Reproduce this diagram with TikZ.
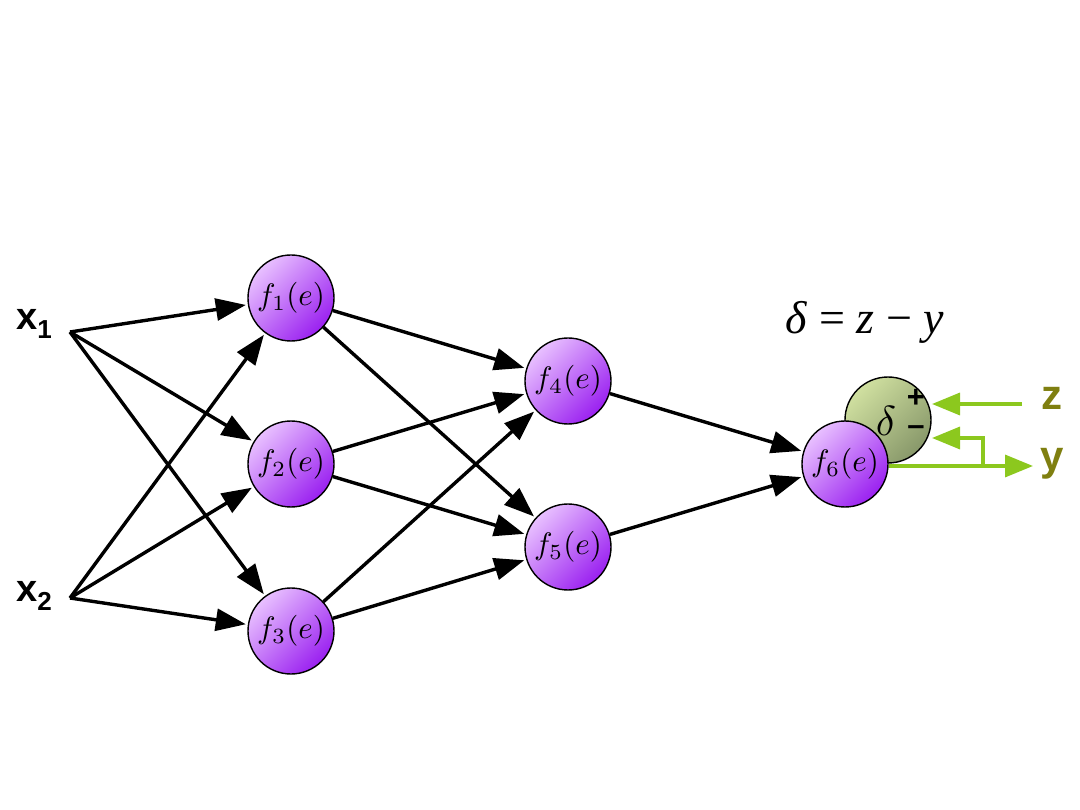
\documentclass[tikz,border=0pt]{standalone}
\usepackage{fontspec}
\setsansfont{Liberation Sans}
\newfontfamily\tms{Liberation Serif}
\usetikzlibrary{arrows.meta}
\definecolor{arrgreen}{HTML}{8CC81E}
\definecolor{olivetxt}{HTML}{7F7F10}
\definecolor{violetlight}{HTML}{E8C0FF}
\definecolor{violetdark}{HTML}{9A20F0}
\definecolor{greenlight}{HTML}{D0E0A0}
\definecolor{greendark}{HTML}{88986A}
\newcommand{\flab}[1]{\scalebox{3.1}{$f_{#1}(e)$}}
\begin{document}
\begin{tikzpicture}[x=1pt,y=-1pt,
  neuron/.style={circle,draw=black,line width=1.4pt,minimum size=86pt,inner sep=0pt,
    left color=violetlight,right color=violetdark,shading angle=45},
  errnode/.style={circle,draw=black,line width=1.4pt,minimum size=86pt,inner sep=0pt,
    left color=greenlight,right color=greendark,shading angle=45},
  sign/.style={inner sep=0pt,text height=14pt,text depth=0pt,
    font=\sffamily\bfseries\fontsize{31}{32}\selectfont},
  conn/.style={line width=3.4pt,shorten >=2pt,-{Triangle[length=30pt,width=22pt]}},
  gconn/.style={draw=arrgreen,line width=3.4pt,-{Triangle[length=28pt,width=22pt]}},
  inlabel/.style={font=\sffamily\bfseries\fontsize{38}{40}\selectfont},
  outlabel/.style={font=\sffamily\bfseries\fontsize{42}{44}\selectfont,text=olivetxt}]
\useasboundingbox (0,0) rectangle (1080,810);

% error node (behind f6)
\node[errnode] (d) at (888,420) {};
\node[inner sep=0pt] (dd) at (886,421) {\scalebox{4.2}{$\delta$}};
\node[sign] (dp) at (916,401) {+};
\node[sign] (dm) at (916,429) {--};

% neurons
\node[neuron] (f1) at (291,298) {\flab{1}};
\node[neuron] (f2) at (291,464) {\flab{2}};
\node[neuron] (f3) at (291,631) {\flab{3}};
\node[neuron] (f4) at (568,381) {\flab{4}};
\node[neuron] (f5) at (568,547) {\flab{5}};
\node[neuron] (f6) at (845,464) {\flab{6}};

% inputs
\node[inlabel] (x1) at (34,324) {x\raisebox{-9pt}{\fontsize{26}{26}\selectfont 1}};
\node[inlabel] (x2) at (34,596) {x\raisebox{-9pt}{\fontsize{26}{26}\selectfont 2}};
\coordinate (x1s) at (70,332);
\coordinate (x2s) at (70,598);

\foreach \s in {x1s,x2s}{
  \foreach \t in {f1,f2,f3}{
    \draw[conn] (\s) -- (\t);
  }
}
\foreach \s in {f1,f2,f3}{
  \foreach \t in {f4,f5}{
    \draw[conn] (\s) -- (\t);
  }
}
\draw[conn] (f4) -- (f6);
\draw[conn] (f5) -- (f6);

% formula
\node (eq) at (865,322) {\tms\fontsize{46}{48}\selectfont\textit{δ} = \textit{z} − \textit{y}};

% outputs
\node[outlabel] (z) at (1052,398) {z};
\node[outlabel] (y) at (1052,464) {y};
\coordinate (zs) at (1022,404);
\coordinate (ye) at (1033,466);
\coordinate (br) at (983,466);
\coordinate (bt) at (983,438);
\coordinate (dmi) at (932,438);
\coordinate (dpi) at (932,404);
\draw[gconn] (zs) -- (dpi);
\draw[gconn] (f6.east |- ye) -- (ye);
\draw[gconn] (br) -- (bt) -- (dmi);
\end{tikzpicture}
\end{document}
